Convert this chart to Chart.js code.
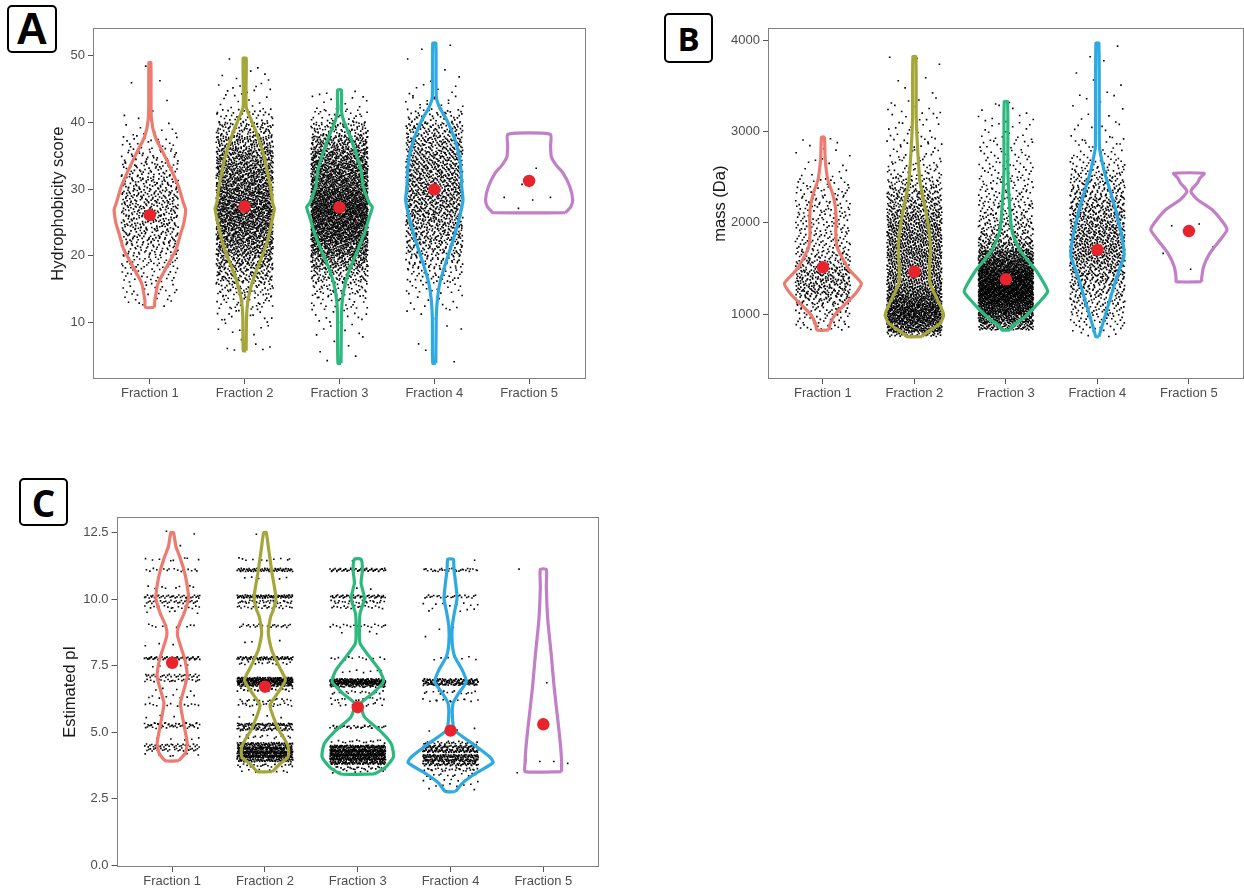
<!DOCTYPE html>
<html>
<head>
<meta charset="utf-8">
<script src="https://cdn.jsdelivr.net/npm/chart.js@4/dist/chart.umd.min.js"></script>
<style>
  html, body { margin: 0; padding: 0; background: #fff; width: 1244px; height: 890px; overflow: hidden; position: relative; }
  canvas { position: absolute; }
  .tag { position: absolute; box-sizing: border-box; border: 2px solid #000; border-radius: 5px;
         display: flex; align-items: center; justify-content: center; color: #000; background: #fff; font-weight: bold; }
</style>
</head>
<body>
<div class="tag" style="left:7px;top:5px;width:50px;height:48px;font:bold 44px 'Liberation Sans';">A</div>
<div class="tag" style="left:664px;top:13px;width:49px;height:50px;font:bold 33px 'Open Sans';">B</div>
<div class="tag" style="left:19px;top:478px;width:49px;height:48px;font:bold 37px 'Open Sans';">C</div>

<canvas id="panelA" width="600" height="410" style="left:0;top:0"></canvas>
<canvas id="panelB" width="610" height="410" style="left:640px;top:0"></canvas>
<canvas id="panelC" width="610" height="420" style="left:0;top:470px"></canvas>

<script>
// ---------- shared categories ----------
const FRACTIONS = ['Fraction 1', 'Fraction 2', 'Fraction 3', 'Fraction 4', 'Fraction 5'];
const FRACTION_POS = [1, 2, 3, 4, 5];

// ---------- A: hydrophobicity score ----------
const HYD_TICKS = [10, 20, 30, 40, 50];
const HYD_TICK_LABELS = ['10', '20', '30', '40', '50'];
const HYD_MEANS = [26.1, 27.35, 27.26, 29.95, 31.2];
// violin outlines: [score, half-width in category units]
const HYD_VIOLIN_F1 = [[12.3,0.047],[13.4,0.053],[15.9,0.087],[18.4,0.179],[20.9,0.274],[23.4,0.326],[24.9,0.358],[26.9,0.377],[27.85,0.355],[30.35,0.302],[32.8,0.228],[35.3,0.144],[37.8,0.056],[40.5,0.016],[44,0.012],[48.9,0.01]];
const HYD_VIOLIN_F2 = [[5.8,0.015],[10.9,0.02],[13.4,0.035],[15.9,0.077],[18.4,0.14],[20.9,0.21],[23.4,0.26],[25.9,0.298],[27.1,0.313],[27.85,0.295],[30.35,0.272],[32.8,0.237],[35.3,0.197],[37.8,0.14],[40.3,0.07],[42.3,0.016],[49.55,0.016]];
const HYD_VIOLIN_F3 = [[3.93,0.016],[10.9,0.021],[13.4,0.03],[15.9,0.061],[18.4,0.118],[20.9,0.193],[23.4,0.263],[25.9,0.316],[27.3,0.347],[27.85,0.316],[30.35,0.25],[32.8,0.228],[35.3,0.176],[37.8,0.114],[40.3,0.042],[41.8,0.02],[44.8,0.02]];
const HYD_VIOLIN_F4 = [[3.93,0.016],[10.9,0.021],[13.4,0.032],[15.9,0.058],[18.4,0.108],[20.9,0.166],[23.4,0.221],[25.9,0.268],[28.35,0.302],[30.35,0.289],[32.8,0.281],[35.3,0.258],[37.8,0.207],[40.3,0.132],[42.3,0.053],[43.8,0.021],[51.8,0.016]];
const HYD_VIOLIN_F5 = [[26.45,0.38],[26.7,0.40],[27.35,0.44],[28.35,0.46],[30.35,0.43],[32.35,0.36],[33.5,0.29],[34.8,0.235],[36.5,0.226],[38.2,0.224]];
// peptide counts per 2-unit score bin, bins starting at 4
const HYD_BIN_START = 4, HYD_BIN_WIDTH = 2;
const HYD_COUNTS_F1 = [0,0,0,0,10,20,30,42,58,72,84,90,84,72,56,36,22,10,3,1,1,1,1,0];
const HYD_COUNTS_F2 = [2,4,8,16,32,59,96,134,182,220,249,263,247,222,198,172,134,86,35,11,11,5,3,0];
const HYD_COUNTS_F3 = [3,3,6,14,26,49,90,157,232,299,337,367,318,269,247,206,150,82,30,11,3,0,0,0];
const HYD_COUNTS_F4 = [2,1,3,4,10,19,35,59,85,106,123,140,146,141,137,128,109,82,44,15,6,3,2,2];
const HYD_F5_VALUES = [36.8, 33.1, 30.7, 28.75, 28.75, 28.35, 27.1];

// ---------- B: mass (Da) ----------
const MASS_TICKS = [1000, 2000, 3000, 4000];
const MASS_TICK_LABELS = ['1000', '2000', '3000', '4000'];
const MASS_MEANS = [1513, 1464, 1381, 1703, 1911];
const MASS_VIOLIN_F1 = [[825,0.065],[898,0.081],[1008,0.144],[1117,0.253],[1227,0.358],[1337,0.42],[1483,0.29],[1593,0.223],[1739,0.154],[1886,0.141],[2032,0.144],[2178,0.136],[2325,0.105],[2471,0.054],[2700,0.025],[2940,0.015]];
const MASS_VIOLIN_F2 = [[751,0.085],[770,0.1],[840,0.2],[898,0.28],[989,0.32],[1117,0.271],[1227,0.217],[1337,0.17],[1520,0.166],[1703,0.176],[1886,0.163],[2068,0.136],[2251,0.1],[2434,0.063],[2800,0.036],[3166,0.02],[3824,0.016]];
const MASS_VIOLIN_F3 = [[825,0.045],[861,0.063],[971,0.208],[1117,0.353],[1245,0.456],[1337,0.416],[1483,0.326],[1593,0.236],[1703,0.152],[1886,0.073],[2068,0.049],[2544,0.022],[3330,0.018]];
const MASS_VIOLIN_F4 = [[751,0.016],[825,0.038],[971,0.081],[1154,0.136],[1337,0.19],[1520,0.25],[1629,0.29],[1776,0.28],[1958,0.244],[2178,0.19],[2361,0.136],[2544,0.081],[2727,0.04],[2837,0.022],[3971,0.016]];
const MASS_VIOLIN_F5 = [[1355,0.139],[1400,0.14],[1520,0.16],[1666,0.228],[1812,0.34],[1922,0.416],[1996,0.38],[2142,0.257],[2251,0.098],[2300,0.05],[2343,0.022],[2380,0.04],[2434,0.09],[2490,0.12],[2544,0.166]];
// peptide counts per 100 Da bin, bins starting at 700
const MASS_BIN_START = 700, MASS_BIN_WIDTH = 100;
const MASS_COUNTS_F1 = [0,15,22,34,56,76,86,73,56,43,34,30,29,29,28,26,21,14,7,4,4,3,2,0,0,0,0,0,0,0,0,0,0];
const MASS_COUNTS_F2 = [36,190,228,240,204,163,134,125,125,130,132,127,120,108,91,77,62,45,26,20,15,12,10,9,8,7,4,2,2,1,1,2,0];
const MASS_COUNTS_F3 = [0,94,188,264,320,377,350,302,234,185,100,65,57,45,38,30,26,23,19,17,15,13,11,8,6,4,2,0,0,0,0,0,0];
const MASS_COUNTS_F4 = [4,16,26,35,46,57,68,79,93,107,110,104,97,88,79,69,57,46,35,24,15,11,8,6,4,3,3,2,2,1,1,1,1];
const MASS_F5_VALUES = [1969, 1988, 1941, 1736, 1666, 1491];

// ---------- C: estimated pI ----------
const PI_TICKS = [0, 2.5, 5, 7.5, 10, 12.5];
const PI_TICK_LABELS = ['0.0', '2.5', '5.0', '7.5', '10.0', '12.5'];
const PI_MEANS = [7.61, 6.71, 5.94, 5.06, 5.30];
const PI_VIOLIN_F1 = [[3.93,0.072],[4.21,0.14],[4.58,0.162],[5.08,0.138],[5.58,0.111],[6.09,0.089],[6.59,0.126],[7.09,0.162],[7.71,0.138],[8.2,0.094],[8.65,0.057],[8.97,0.067],[9.47,0.129],[10.03,0.175],[10.6,0.158],[11.1,0.126],[11.6,0.081],[11.97,0.041],[12.5,0.014]];
const PI_VIOLIN_F2 = [[3.52,0.08],[3.77,0.15],[4.08,0.25],[4.46,0.25],[4.8,0.2],[5.08,0.15],[5.58,0.09],[6.02,0.054],[6.46,0.135],[6.96,0.22],[7.46,0.154],[8.09,0.072],[8.72,0.036],[9.34,0.061],[9.6,0.09],[10.03,0.118],[10.5,0.1],[11.0,0.075],[11.5,0.055],[12.0,0.035],[12.5,0.014]];
const PI_VIOLIN_F3 = [[3.43,0.18],[3.7,0.305],[4.08,0.385],[4.58,0.359],[5.08,0.234],[5.58,0.072],[6.09,0.036],[6.46,0.162],[6.9,0.277],[7.34,0.234],[7.84,0.126],[8.34,0.025],[8.97,0.018],[9.47,0.025],[10.03,0.072],[10.6,0.036],[11.1,0.05],[11.5,0.036]];
const PI_VIOLIN_F4 = [[2.77,0.054],[3.08,0.126],[3.43,0.259],[3.86,0.458],[4.08,0.42],[4.58,0.234],[5.08,0.043],[5.58,0.02],[6.09,0.027],[6.46,0.086],[6.9,0.17],[7.34,0.126],[7.84,0.045],[8.34,0.018],[8.97,0.018],[9.47,0.04],[10.03,0.07],[10.6,0.055],[11.1,0.038],[11.3,0.035],[11.5,0.03]];
const PI_VIOLIN_F5 = [[3.52,0.197],[3.83,0.197],[4.21,0.192],[4.83,0.176],[5.46,0.156],[6.71,0.116],[7.97,0.084],[9.22,0.048],[10.47,0.032],[11.12,0.032]];
// pI values come in narrow bands: [band pI, peptide count]
const PI_BANDS_F1 = [[4.15,6],[4.35,25],[4.5,30],[4.75,5],[5.2,20],[5.3,28],[5.6,3],[6.03,14],[6.34,8],[6.6,4],[6.95,22],[7.12,30],[7.5,5],[7.78,58],[8.3,3],[9.0,10],[9.5,6],[9.7,16],[9.9,28],[10.1,38],[10.45,8],[11.1,16],[11.5,8],[12.0,1],[12.5,2]];
const PI_BANDS_F2 = [[3.55,8],[3.75,20],[3.95,80],[4.1,120],[4.25,130],[4.4,110],[4.55,80],[4.83,14],[5.12,55],[5.28,65],[5.6,4],[6.03,18],[6.2,16],[6.6,24],[6.78,80],[6.9,120],[7.0,110],[7.6,14],[7.78,80],[8.4,3],[9.0,25],[9.7,22],[9.9,30],[10.1,80],[10.8,6],[11.1,70],[11.5,12],[12.5,1]];
const PI_BANDS_F3 = [[3.5,8],[3.65,25],[3.85,90],[4.0,140],[4.15,160],[4.3,150],[4.45,110],[4.65,15],[5.2,35],[6.05,12],[6.25,14],[6.5,16],[6.75,60],[6.85,120],[6.95,110],[7.3,8],[7.78,12],[8.75,4],[9.0,18],[9.7,18],[9.9,24],[10.1,50],[10.4,2],[11.1,55],[11.5,1]];
const PI_BANDS_F4 = [[2.85,3],[3.0,6],[3.2,8],[3.4,12],[3.6,25],[3.8,60],[3.95,80],[4.1,90],[4.3,80],[4.45,60],[4.6,25],[5.1,3],[6.2,12],[6.5,14],[6.82,70],[6.95,80],[7.78,6],[8.6,1],[8.9,2],[9.6,6],[9.8,8],[10.1,24],[11.1,30],[11.5,1]];
const PI_F5_VALUES = [11.13, 6.86, 6.79, 4.27, 3.96, 3.9, 3.9, 3.83, 3.48];

// ---------- drawing ----------
const COLORS = ['#ee7b70', '#a5a63a', '#2cb97e', '#2eaae2', '#c27fc8'];
const MEAN_COLOR = '#e8232b';
const TICK_FONT = { family: 'Liberation Sans', size: 13 };
const TITLE_FONT = { family: 'Liberation Sans', size: 16.5 };
const JITTER = 0.3;        // horizontal jitter half-width, category units
const BAND_SPREAD = 0.12;  // vertical thickness of a pI band

// Deterministic Halton (2,3) offsets used to lay out the jittered dots.
function halton(i, base) {
  let f = 1, r = 0;
  while (i > 0) { f /= base; r += f * (i % base); i = Math.floor(i / base); }
  return r;
}
function jitterPair(i) {
  return [halton(i, 2), halton(i, 3)];
}

// Dots for a histogram: every peptide in a bin is placed inside that bin.
function binnedDots(pos, start, width, counts, range, seed) {
  const pts = [];
  let i = seed;
  counts.forEach((n, b) => {
    const lo = Math.max(start + b * width, range[0]);
    const hi = Math.min(start + (b + 1) * width, range[1]);
    for (let k = 0; k < n; k++) {
      const [u, w] = jitterPair(++i);
      pts.push({ x: pos + (u - 0.5) * 2 * JITTER, y: lo + w * (hi - lo) });
    }
  });
  return pts;
}
// Dots for banded values (pI).
function bandDots(pos, bands, seed) {
  const pts = [];
  let i = seed;
  bands.forEach(([v, n]) => {
    for (let k = 0; k < n; k++) {
      const [u, w] = jitterPair(++i);
      pts.push({ x: pos + (u - 0.5) * 2 * JITTER, y: v + (w - 0.5) * BAND_SPREAD });
    }
  });
  return pts;
}
// Dots for individually listed values.
function valueDots(pos, values, seed) {
  return values.map((v, k) => {
    const [u] = jitterPair(seed + k + 1);
    return { x: pos + (u - 0.5) * 2 * JITTER, y: v };
  });
}
// Closed violin outline around a category position.
function violinPath(pos, outline) {
  const right = outline.map(([v, hw]) => ({ x: pos + hw, y: v }));
  const left = outline.slice().reverse().map(([v, hw]) => ({ x: pos - hw, y: v }));
  const path = right.concat(left);
  path.push(right[0]);
  return path;
}
function extent(outline) {
  return [outline[0][0], outline[outline.length - 1][0]];
}

const panelBorder = {
  id: 'panelBorder',
  afterDatasetsDraw(chart) {
    const { ctx, chartArea: a } = chart;
    const l = Math.round(a.left), t = Math.round(a.top), r = Math.round(a.right), b = Math.round(a.bottom);
    ctx.save();
    ctx.strokeStyle = '#808080';
    ctx.lineWidth = 1;
    ctx.strokeRect(l + 0.5, t + 0.5, r - l - 1, b - t - 1);
    ctx.restore();
  }
};

function buildPanel(id, p) {
  const datasets = [
    { data: p.dots, pointStyle: 'rect', pointRadius: 1.15, backgroundColor: '#000', borderWidth: 0, order: 3 }
  ];
  p.violins.forEach((outline, f) => {
    datasets.push({
      data: violinPath(FRACTION_POS[f], outline), showLine: true, tension: 0.2,
      borderColor: COLORS[f], borderWidth: 3.2, pointRadius: 0, fill: false, order: 2
    });
  });
  datasets.push({
    data: p.means.map((m, f) => ({ x: FRACTION_POS[f], y: m })),
    pointRadius: 6.2, backgroundColor: MEAN_COLOR, borderWidth: 0, order: 1
  });

  new Chart(document.getElementById(id), {
    type: 'scatter',
    data: { datasets },
    plugins: [panelBorder],
    options: {
      responsive: false, animation: false, events: [],
      layout: { padding: p.padding },
      plugins: { legend: { display: false }, tooltip: { enabled: false } },
      scales: {
        x: {
          type: 'linear', min: 0.4, max: 5.6,
          afterBuildTicks: s => { s.ticks = FRACTION_POS.map(v => ({ value: v })); },
          afterFit: s => { s.height = p.xHeight; },
          ticks: { callback: (v, i) => FRACTIONS[i], color: '#4d4d4d', font: TICK_FONT, padding: 2, autoSkip: false, maxRotation: 0 },
          grid: { drawOnChartArea: false, drawTicks: true, tickLength: 5, color: '#555', tickColor: '#555' },
          border: { display: false }
        },
        y: {
          type: 'linear', min: p.yMin, max: p.yMax,
          afterBuildTicks: s => { s.ticks = p.ticks.map(v => ({ value: v })); },
          afterFit: s => { s.width = p.yWidth; },
          ticks: { callback: (v, i) => p.tickLabels[i], color: '#4d4d4d', font: TICK_FONT, padding: 3, autoSkip: false },
          grid: { drawOnChartArea: false, drawTicks: true, tickLength: 5, color: '#555', tickColor: '#555' },
          border: { display: false },
          title: { display: true, text: p.title, color: '#1a1a1a', font: TITLE_FONT, padding: { top: p.titlePad, bottom: 0 } }
        }
      }
    }
  });
}

// Panel A
const hydViolins = [HYD_VIOLIN_F1, HYD_VIOLIN_F2, HYD_VIOLIN_F3, HYD_VIOLIN_F4, HYD_VIOLIN_F5];
const hydCounts = [HYD_COUNTS_F1, HYD_COUNTS_F2, HYD_COUNTS_F3, HYD_COUNTS_F4];
let hydDots = [];
hydCounts.forEach((c, f) => {
  hydDots = hydDots.concat(binnedDots(FRACTION_POS[f], HYD_BIN_START, HYD_BIN_WIDTH, c, extent(hydViolins[f]), f * 5000 + 1));
});
hydDots = hydDots.concat(valueDots(FRACTION_POS[4], HYD_F5_VALUES, 3));
buildPanel('panelA', {
  dots: hydDots, violins: hydViolins, means: HYD_MEANS,
  yMin: 1.58, yMax: 54.04, ticks: HYD_TICKS, tickLabels: HYD_TICK_LABELS,
  title: 'Hydrophobicity score', titlePad: 48.4,
  padding: { left: 0, top: 28.3, right: 14, bottom: 6 }, yWidth: 93, xHeight: 25
});

// Panel B
const massViolins = [MASS_VIOLIN_F1, MASS_VIOLIN_F2, MASS_VIOLIN_F3, MASS_VIOLIN_F4, MASS_VIOLIN_F5];
const massCounts = [MASS_COUNTS_F1, MASS_COUNTS_F2, MASS_COUNTS_F3, MASS_COUNTS_F4];
let massDots = [];
massCounts.forEach((c, f) => {
  massDots = massDots.concat(binnedDots(FRACTION_POS[f], MASS_BIN_START, MASS_BIN_WIDTH, c, extent(massViolins[f]), f * 5000 + 17));
});
massDots = massDots.concat(valueDots(FRACTION_POS[4], MASS_F5_VALUES, 11));
buildPanel('panelB', {
  dots: massDots, violins: massViolins, means: MASS_MEANS,
  yMin: 287, yMax: 4136, ticks: MASS_TICKS, tickLabels: MASS_TICK_LABELS,
  title: 'mass (Da)', titlePad: 71,
  padding: { left: 0, top: 28.3, right: 4, bottom: 6 }, yWidth: 128, xHeight: 25
});

// Panel C
const piViolins = [PI_VIOLIN_F1, PI_VIOLIN_F2, PI_VIOLIN_F3, PI_VIOLIN_F4, PI_VIOLIN_F5];
const piBands = [PI_BANDS_F1, PI_BANDS_F2, PI_BANDS_F3, PI_BANDS_F4];
let piDots = [];
piBands.forEach((b, f) => { piDots = piDots.concat(bandDots(FRACTION_POS[f], b, f * 5000 + 29)); });
piDots = piDots.concat(valueDots(FRACTION_POS[4], PI_F5_VALUES, 7));
buildPanel('panelC', {
  dots: piDots, violins: piViolins, means: PI_MEANS,
  yMin: -0.064, yMax: 13.1, ticks: PI_TICKS, tickLabels: PI_TICK_LABELS,
  title: 'Estimated pI', titlePad: 60.9,
  padding: { left: 0, top: 46.7, right: 11, bottom: 3 }, yWidth: 116.5, xHeight: 20
});
</script>
</body>
</html>
